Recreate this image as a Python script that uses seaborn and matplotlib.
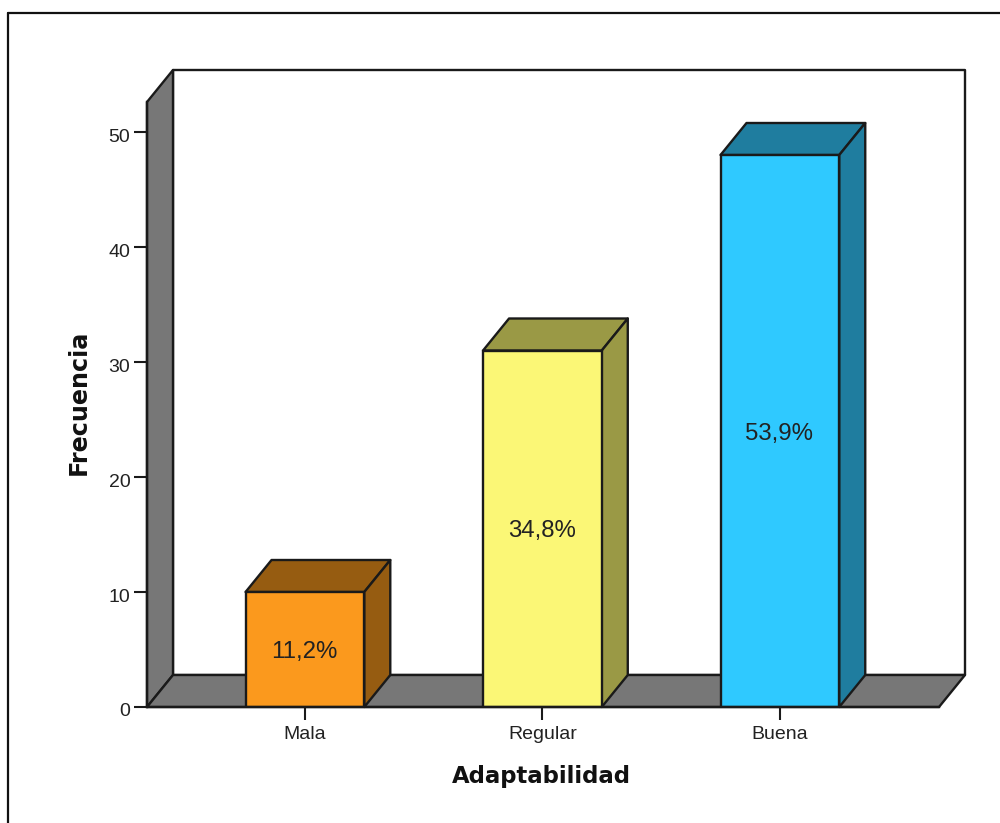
import matplotlib
matplotlib.use("Agg")
import matplotlib.pyplot as plt
from matplotlib.lines import Line2D
from matplotlib.transforms import ScaledTranslation
import seaborn as sns

categories = ["Mala", "Regular", "Buena"]
frequencies = [10, 31, 48]
percent_labels = ["11,2%", "34,8%", "53,9%"]
front_colors = ["#FB991D", "#FBF776", "#2FC9FF"]
side_colors = ["#965C11", "#9A9945", "#1F7D9F"]
y_ticks = [0, 10, 20, 30, 40, 50]

WALL = "#777777"
INK = "#1A1A1A"
TEXT = "#222222"
LW = 1.7

sns.set_theme(style="white")
plt.rcParams["font.family"] = ["Liberation Sans", "DejaVu Sans"]

W, H = 1000, 823
fig = plt.figure(figsize=(W / 100, H / 100), dpi=100, facecolor="white")
# Front plane of the 3D box, positioned in pixels
left, right, top, bottom = 147, 939, 102, 707
ax = fig.add_axes([left / W, 1 - bottom / H, (right - left) / W, (bottom - top) / H])
ax.set_facecolor("none")

sns.barplot(
    x=categories, y=frequencies, hue=categories, palette=front_colors,
    width=0.5, edgecolor=INK, linewidth=LW, saturation=1, legend=False,
    ax=ax, zorder=5,
)

x0, x1 = -0.665, 2.67
ymax = (bottom - top) / 11.5
ax.set_xlim(x0, x1)
ax.set_ylim(0, ymax)

# Depth offset of the extrusion, in data units
dx = 26 / 237.5
dy = 32 / 11.5

# Left wall, floor and back wall
wall_style = dict(edgecolor=INK, linewidth=LW, clip_on=False, joinstyle="round")
ax.fill([x0 + dx, x1 + dx, x1 + dx, x0 + dx], [dy, dy, ymax + dy, ymax + dy],
        facecolor="white", zorder=1, **wall_style)
ax.fill([x0, x0 + dx, x0 + dx, x0], [0, dy, ymax + dy, ymax],
        facecolor=WALL, zorder=2, **wall_style)
ax.fill([x0, x0 + dx, x1 + dx, x1], [0, dy, dy, 0],
        facecolor=WALL, zorder=2, **wall_style)

# Percentage labels sit slightly below the bar's midpoint
label_shift = ScaledTranslation(-0.5 / 100, -2.5 / 100, fig.dpi_scale_trans)

# Top and side faces of each bar
half = 0.25
for i, (val, side) in enumerate(zip(frequencies, side_colors)):
    ax.fill([i - half, i - half + dx, i + half + dx, i + half],
            [val, val + dy, val + dy, val],
            facecolor=side, zorder=4, **wall_style)
    ax.fill([i + half, i + half + dx, i + half + dx, i + half],
            [0, dy, val + dy, val],
            facecolor=side, zorder=4, **wall_style)
    ax.text(i, val / 2, percent_labels[i], ha="center", va="center",
            fontsize=17.3, color=TEXT, zorder=6,
            transform=ax.transData + label_shift)

ax.set_yticks(y_ticks)
ax.set_xticks(range(len(categories)))
ax.set_xticklabels(categories)
ax.tick_params(axis="both", length=9.5, width=1.5, color=INK, labelsize=14,
               labelcolor=TEXT, pad=2.5, left=True, bottom=True)
ax.tick_params(axis="x", pad=4)

# Value labels hang a little under their tick marks
ytick_shift = ScaledTranslation(0, -3 / 100, fig.dpi_scale_trans)
for lab in ax.get_yticklabels():
    lab.set_transform(lab.get_transform() + ytick_shift)

for name in ("top", "right"):
    ax.spines[name].set_visible(False)
for name in ("left", "bottom"):
    ax.spines[name].set_color(INK)
    ax.spines[name].set_linewidth(LW)
    ax.spines[name].set_zorder(7)

ax.set_xlabel("Adaptabilidad", fontsize=16.4, fontweight="bold", x=0.4975,
              family="DejaVu Sans", color="#111111", labelpad=16)
ax.set_ylabel("Frecuencia", fontsize=17.2, fontweight="bold", y=0.503,
              family="DejaVu Sans", color="#111111", labelpad=13)

# Partial outer frame: top and left edges only
fig.add_artist(Line2D([8 / W, 8 / W], [0, 1 - 13 / H], color="#111111", lw=1.6))
fig.add_artist(Line2D([8 / W, 1], [1 - 13 / H, 1 - 13 / H], color="#111111", lw=1.6))

fig.savefig("out.png", dpi=100)
